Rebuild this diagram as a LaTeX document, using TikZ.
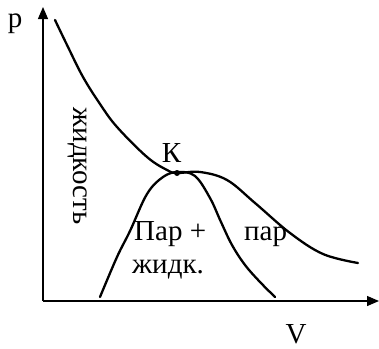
\documentclass[tikz,border=0pt]{standalone}
\usepackage{fontspec}
\setmainfont{Liberation Serif}
\newfontfamily\rufont{Liberation Serif}
\usetikzlibrary{arrows.meta}
\begin{document}
\begin{tikzpicture}[x=1pt,y=-1pt,
  lbl/.style={inner sep=0pt,font=\rufont\fontsize{29}{31}\selectfont},
  axis/.style={line width=1.3pt,-{Triangle[length=12pt,width=10pt]}},
  curve/.style={line width=2.3pt,line cap=round,line join=round}]
\useasboundingbox (0,0) rectangle (379,348);
\coordinate (O) at (43,301);
\coordinate (Ytop) at (43,7);
\coordinate (Xend) at (379,301);
\draw[axis] (O) -- (Ytop);
\draw[axis] (O) -- (Xend);
% isotherm
\draw[curve] plot[smooth,tension=0.6] coordinates {(55,20) (68,47) (83,77) (100,104) (117,127) (147,157) (167,170) (177,173) (200,172) (227,180) (255,203) (290,233) (323,254) (358,263)};
% dome
\draw[curve] plot[smooth,tension=0.6] coordinates {(100,297) (117,257) (130,231) (147,194) (163,177) (178,172) (195,176) (210,198) (221,222) (232,245) (245,265) (260,282) (275,297)};
\fill (177,173) circle (3pt);
\node[lbl,anchor=base] (p) at (15,27) {p};
\node[lbl,anchor=base] (V) at (296,343) {V};
\node[lbl,anchor=base] (K) at (171.5,162) {К};
\node[lbl,anchor=base west] (pz) at (134,240) {Пар +};
\node[lbl,anchor=base west] (zh) at (132,273) {жидк.};
\node[lbl,anchor=base west] (par) at (244,240) {пар};
\node[lbl,anchor=base,rotate=-90] (liq) at (73,166) {жидкость};
\end{tikzpicture}
\end{document}
